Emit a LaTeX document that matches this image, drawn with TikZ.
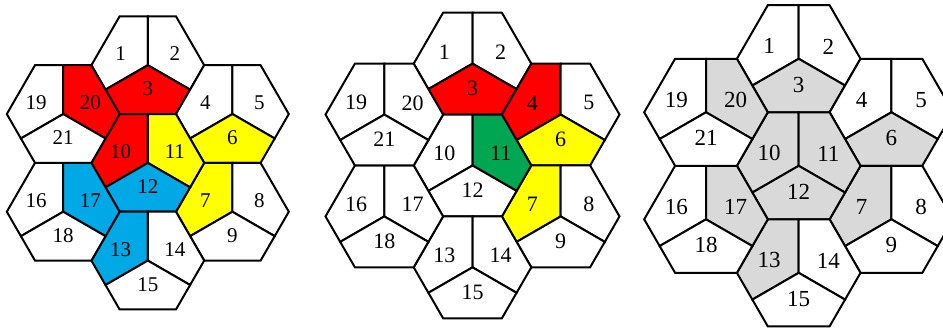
\documentclass[tikz,border=0pt]{standalone}
\usepackage{fontspec}
\setmainfont{Liberation Serif}
\definecolor{hred}{HTML}{FF0000}
\definecolor{hyel}{HTML}{FFFF00}
\definecolor{hblue}{HTML}{00A9E6}
\definecolor{hgreen}{HTML}{00A651}
\definecolor{hgray}{HTML}{D9D9D9}
\def\hexs{0.8660254}
\def\pre{a}
\tikzset{
  cellline/.style={draw=black,line width=2pt,line join=miter},
  celllabel/.style={inner sep=0pt,text=black}
}
% #1,#2 centre (units of R); #3,#4,#5 fills of left, right, bottom part; #6,#7,#8 their labels
\newcommand\hexcell[8]{%
  \begin{scope}[shift={(#1,#2)}]
    \filldraw[cellline,fill=#3] (0,0) -- (0,\hexs) -- (-0.5,\hexs) -- (-1,0) -- (-0.75,-0.5*\hexs) -- cycle;
    \filldraw[cellline,fill=#4] (0,0) -- (0.75,-0.5*\hexs) -- (1,0) -- (0.5,\hexs) -- (0,\hexs) -- cycle;
    \filldraw[cellline,fill=#5] (0,0) -- (-0.75,-0.5*\hexs) -- (-0.5,-\hexs) -- (0.5,-\hexs) -- (0.75,-0.5*\hexs) -- cycle;
    \node[celllabel] (\pre-#6) at (-0.48,0.2) {#6};
    \node[celllabel] (\pre-#7) at (0.48,0.2) {#7};
    \node[celllabel] (\pre-#8) at (0,-0.42) {#8};
  \end{scope}}
\begin{document}
\begin{tikzpicture}[x=1pt,y=1pt]
\useasboundingbox (0,0) rectangle (943,328);
\clip (0,0) rectangle (943,328);
\fill[white] (0,0) rectangle (943,328);
% diagram 1
\def\pre{a}
\begin{scope}[shift={(147.8pt,165.1pt)}]
\begin{scope}[x=56.4pt,y=56.4pt,font=\fontsize{21}{21}\selectfont]
  \hexcell{0}{2*\hexs}{white}{white}{hred}{1}{2}{3}
  \hexcell{1.5}{\hexs}{white}{white}{hyel}{4}{5}{6}
  \hexcell{1.5}{-\hexs}{hyel}{white}{white}{7}{8}{9}
  \hexcell{0}{0}{hred}{hyel}{hblue}{10}{11}{12}
  \hexcell{0}{-2*\hexs}{hblue}{white}{white}{13}{14}{15}
  \hexcell{-1.5}{-\hexs}{white}{hblue}{white}{16}{17}{18}
  \hexcell{-1.5}{\hexs}{white}{hred}{white}{19}{20}{21}
\end{scope}
\end{scope}
% diagram 2
\def\pre{b}
\begin{scope}[shift={(472.5pt,162.5pt)}]
\begin{scope}[x=58.8pt,y=58.8pt,font=\fontsize{22}{22}\selectfont]
  \hexcell{0}{2*\hexs}{white}{white}{hred}{1}{2}{3}
  \hexcell{1.5}{\hexs}{hred}{white}{hyel}{4}{5}{6}
  \hexcell{1.5}{-\hexs}{hyel}{white}{white}{7}{8}{9}
  \hexcell{0}{0}{white}{hgreen}{white}{10}{11}{12}
  \hexcell{0}{-2*\hexs}{white}{white}{white}{13}{14}{15}
  \hexcell{-1.5}{-\hexs}{white}{white}{white}{16}{17}{18}
  \hexcell{-1.5}{\hexs}{white}{white}{white}{19}{20}{21}
\end{scope}
\end{scope}
% diagram 3
\def\pre{c}
\begin{scope}[shift={(798.7pt,162.2pt)}]
\begin{scope}[x=61.8pt,y=61.8pt,font=\fontsize{23}{23}\selectfont]
  \hexcell{0}{2*\hexs}{white}{white}{hgray}{1}{2}{3}
  \hexcell{1.5}{\hexs}{white}{white}{hgray}{4}{5}{6}
  \hexcell{1.5}{-\hexs}{hgray}{white}{white}{7}{8}{9}
  \hexcell{0}{0}{hgray}{hgray}{hgray}{10}{11}{12}
  \hexcell{0}{-2*\hexs}{hgray}{white}{white}{13}{14}{15}
  \hexcell{-1.5}{-\hexs}{white}{hgray}{white}{16}{17}{18}
  \hexcell{-1.5}{\hexs}{white}{hgray}{white}{19}{20}{21}
\end{scope}
\end{scope}
\end{tikzpicture}
\end{document}
